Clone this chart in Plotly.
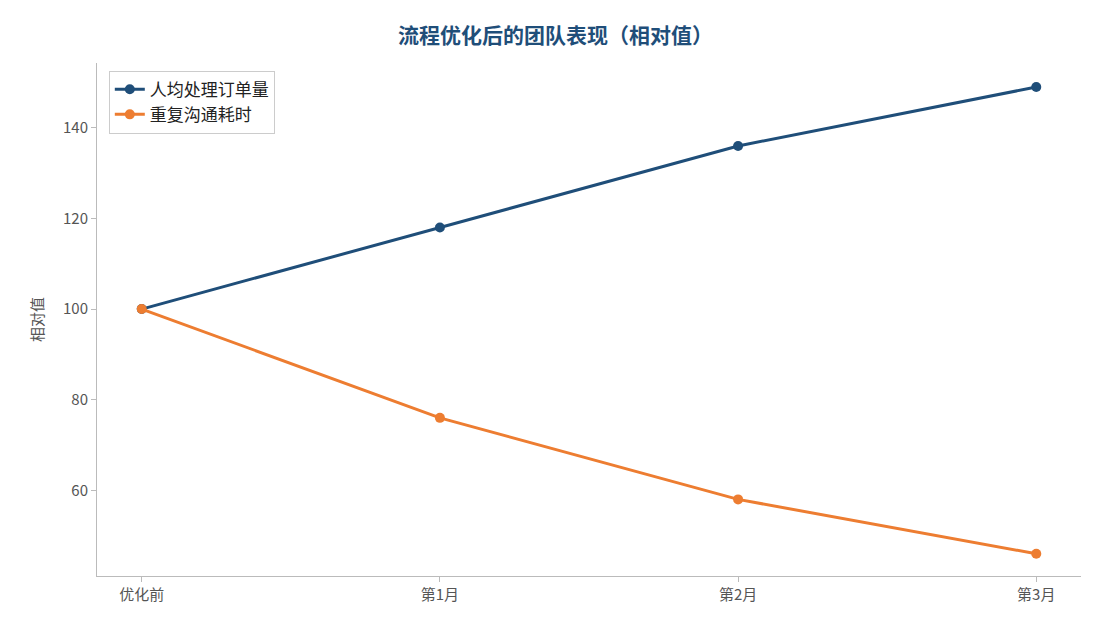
import plotly.graph_objects as go

stages = ["优化前", "第1月", "第2月", "第3月"]
orders_per_person = [100, 118, 136, 149]
comm_time = [100, 76, 58, 46]

font = "Noto Sans CJK SC"
fig = go.Figure()
fig.add_trace(go.Scatter(x=list(range(4)), y=orders_per_person, mode="lines+markers", name="人均处理订单量",
                         line=dict(color="#1f4e79", width=3), marker=dict(size=10)))
fig.add_trace(go.Scatter(x=list(range(4)), y=comm_time, mode="lines+markers", name="重复沟通耗时",
                         line=dict(color="#ed7d31", width=3), marker=dict(size=10)))

fig.update_layout(
    width=1095, height=630,
    margin=dict(l=89, r=22, t=55, b=62),
    plot_bgcolor="white", paper_bgcolor="white",
    font=dict(family=font, size=15, color="#555555"),
    title=dict(text="<b>流程优化后的团队表现（相对值）</b>", x=0.5, xanchor="center", y=0.967,
               font=dict(size=21, color="#1f4e79")),
    legend=dict(x=0.012, y=0.985, xanchor="left", yanchor="top", bgcolor="white",
                bordercolor="#cccccc", borderwidth=1, font=dict(size=17, color="#222222"),
                tracegroupgap=4),
    xaxis=dict(tickmode="array", tickvals=list(range(4)), ticktext=stages, range=[-0.15, 3.15],
               showline=True, linecolor="#bbbbbb", ticks="outside", tickcolor="#bbbbbb",
               showgrid=False, zeroline=False),
    yaxis=dict(range=[41.1, 154.3], tickvals=[60, 80, 100, 120, 140], title=dict(text="相对值", font=dict(size=15)),
               showline=True, linecolor="#bbbbbb", ticks="outside", tickcolor="#bbbbbb",
               showgrid=False, zeroline=False),
)
fig.write_html("out.html")
